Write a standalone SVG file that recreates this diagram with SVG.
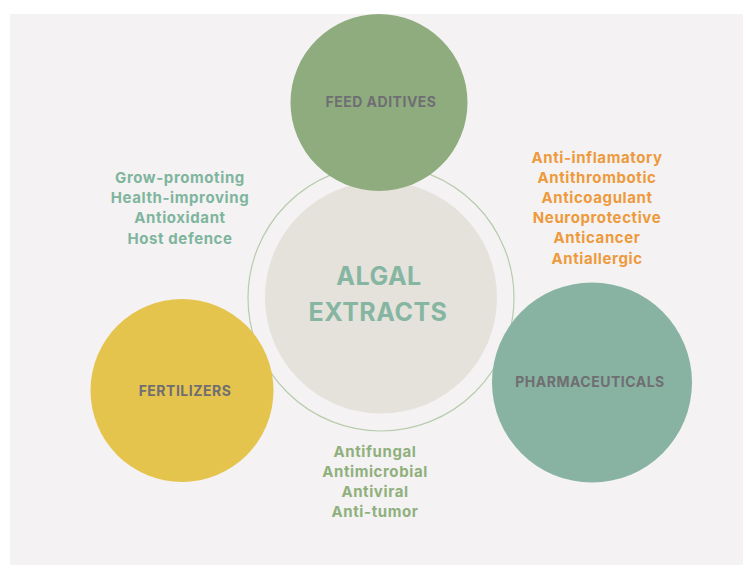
<svg xmlns="http://www.w3.org/2000/svg" width="743" height="565" viewBox="0 0 743 565">
  <style>
    text { font-family: Inter, "Open Sans", "Liberation Sans", sans-serif; font-weight: 700; text-anchor: middle; }
    .node-label { font-size: 14px; fill: #6f6e72; letter-spacing: 0.5px; }
    .list { font-size: 15px; letter-spacing: 0.6px; }
    .teal { fill: #7fb59e; }
    .orange { fill: #ee9a3c; }
    .green { fill: #8fb07c; }
    .title { font-size: 25px; fill: #86b6a2; letter-spacing: 0.5px; }
  </style>

  <!-- backdrop -->
  <rect x="0" y="0" width="743" height="565" fill="#ffffff"/>
  <rect x="10" y="14" width="733" height="551" fill="#f4f2f3"/>

  <!-- ring around the core -->
  <g id="ring">
    <circle cx="381" cy="298" r="133" fill="none" stroke="#b7ccac" stroke-width="1.2"/>
  </g>

  <!-- core -->
  <g id="algal-extracts">
    <circle cx="381" cy="297.5" r="116" fill="#e5e2dc"/>
    <text class="title" x="379" y="285">ALGAL</text>
    <text class="title" x="378" y="321">EXTRACTS</text>
  </g>

  <!-- outer nodes -->
  <g id="feed-aditives">
    <circle cx="379" cy="102.5" r="88.5" fill="#8fac7f"/>
    <text class="node-label" x="381" y="107">FEED ADITIVES</text>
  </g>

  <g id="fertilizers">
    <circle cx="182" cy="390.5" r="91.5" fill="#e5c44e"/>
    <text class="node-label" x="185" y="396">FERTILIZERS</text>
  </g>

  <g id="pharmaceuticals">
    <circle cx="592" cy="382.5" r="100" fill="#88b3a2"/>
    <text class="node-label" x="590" y="387">PHARMACEUTICALS</text>
  </g>

  <!-- property lists -->
  <g id="feed-properties" class="list teal">
    <text x="180" y="183">Grow-promoting</text>
    <text x="180" y="203">Health-improving</text>
    <text x="180" y="223">Antioxidant</text>
    <text x="180" y="243.5">Host defence</text>
  </g>

  <g id="pharma-properties" class="list orange">
    <text x="597" y="162.5">Anti-inflamatory</text>
    <text x="597" y="182.7">Antithrombotic</text>
    <text x="597" y="202.9">Anticoagulant</text>
    <text x="597" y="223.1">Neuroprotective</text>
    <text x="597" y="243.3">Anticancer</text>
    <text x="597" y="263.5">Antiallergic</text>
  </g>

  <g id="fertilizer-properties" class="list green">
    <text x="375" y="456.5">Antifungal</text>
    <text x="375" y="476.5">Antimicrobial</text>
    <text x="375" y="496.5">Antiviral</text>
    <text x="375" y="516.5">Anti-tumor</text>
  </g>
</svg>
